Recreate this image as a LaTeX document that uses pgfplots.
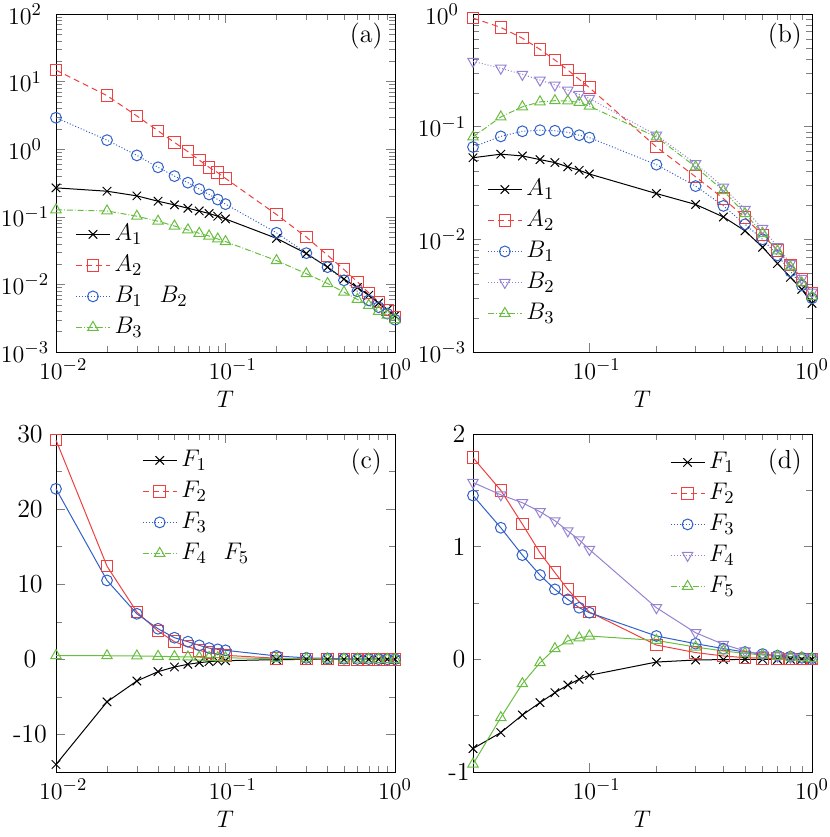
\documentclass[border=0pt]{standalone}
\usepackage{pgfplots}
\pgfplotsset{compat=1.18}
\definecolor{myred}{RGB}{238,64,64}
\definecolor{myblue}{RGB}{48,96,200}
\definecolor{mygreen}{RGB}{104,190,64}
\definecolor{mypurple}{RGB}{150,130,210}
\newcommand{\xl}[1]{\rlap{$10^{#1}$}\phantom{$10^{0}$}}
\pgfplotsset{
  mypanel/.style={scale only axis, width=169.5pt, height=169pt, anchor=south west,
    clip=false, font=\fontsize{13}{15}\selectfont,
    xlabel={$T$}, legend cell align=left,
    xlabel style={yshift=1pt},
    legend style={draw=none, fill=none, inner sep=0pt,
      nodes={inner sep=2pt, text height=9pt, text depth=2.5pt}}},
  sA1/.style={color=black, solid, line width=0.5pt, mark=x, mark size=3pt, mark options={solid}},
  sA2/.style={color=myred, densely dashed, line width=0.5pt, mark=square, mark size=2.9pt, mark options={solid}},
  sB1/.style={color=myblue, densely dotted, line width=0.5pt, mark=o, mark size=2.7pt, mark options={solid}},
  sB2/.style={color=mypurple, densely dotted, line width=0.5pt, mark=triangle, mark size=3pt, mark options={solid, rotate=180}},
  sB3/.style={color=mygreen, densely dashdotted, line width=0.5pt, mark=triangle, mark size=3pt, mark options={solid}},
  pF1/.style={color=black, line width=0.5pt, mark=x, mark size=3pt, mark options={solid}},
  pF2/.style={color=myred, line width=0.5pt, mark=square, mark size=2.9pt, mark options={solid}, legend image post style={densely dashed}},
  pF3/.style={color=myblue, line width=0.5pt, mark=o, mark size=2.7pt, mark options={solid}, legend image post style={densely dotted}},
  pF4/.style={color=mypurple, line width=0.5pt, mark=triangle, mark size=3pt, mark options={solid, rotate=180}, legend image post style={densely dotted}},
  pF5/.style={color=mygreen, line width=0.5pt, mark=triangle, mark size=3pt, mark options={solid}, legend image post style={densely dashdotted}},
}
\begin{document}
\begin{tikzpicture}
% ---------------- (a)
\begin{axis}[mypanel, xmode=log, ymode=log, at={(0pt,210pt)}, xmin=0.01, xmax=1, ymin=1e-3, ymax=1e2,
  xtick={0.01,0.1,1}, xticklabels={\xl{-2},\xl{-1},$10^{0}$},
  ytick={1e-3,1e-2,1e-1,1,1e1,1e2},
  yticklabel style={anchor=center, xshift=-15.5pt},
  legend style={at={(rel axis cs:0.056,0.395)}, anchor=north west}]
\addplot[sA1] coordinates {(0.01,0.268)(0.02,0.239)(0.03,0.204)(0.04,0.170)(0.05,0.150)(0.06,0.134)(0.07,0.122)(0.08,0.112)(0.09,0.102)(0.1,0.093)(0.2,0.048)(0.3,0.0286)(0.4,0.018)(0.5,0.012)(0.6,0.0090)(0.7,0.0069)(0.8,0.0053)(0.9,0.0042)(1.0,0.00345)};
\addlegendentry{$A_1$}
\addplot[sA2] coordinates {(0.01,14.8)(0.02,6.2)(0.03,3.1)(0.04,1.87)(0.05,1.26)(0.06,0.92)(0.07,0.69)(0.08,0.54)(0.09,0.45)(0.1,0.37)(0.2,0.108)(0.3,0.050)(0.4,0.027)(0.5,0.0166)(0.6,0.0109)(0.7,0.0075)(0.8,0.0055)(0.9,0.0042)(1.0,0.0033)};
\addlegendentry{$A_2$}
\addplot[sB1] coordinates {(0.01,2.92)(0.02,1.36)(0.03,0.81)(0.04,0.54)(0.05,0.40)(0.06,0.32)(0.07,0.257)(0.08,0.214)(0.09,0.180)(0.1,0.154)(0.2,0.058)(0.3,0.029)(0.4,0.018)(0.5,0.0115)(0.6,0.0079)(0.7,0.0058)(0.8,0.0046)(0.9,0.0037)(1.0,0.0030)};
\addlegendentry{$B_1\ \ B_2$}
\addplot[sB3] coordinates {(0.01,0.127)(0.02,0.122)(0.03,0.102)(0.04,0.086)(0.05,0.073)(0.06,0.064)(0.07,0.057)(0.08,0.052)(0.09,0.047)(0.1,0.043)(0.2,0.0225)(0.3,0.0144)(0.4,0.0103)(0.5,0.0077)(0.6,0.0060)(0.7,0.0049)(0.8,0.0040)(0.9,0.0035)(1.0,0.0030)};
\addlegendentry{$B_3$}
\node at (rel axis cs:0.915,0.935) {(a)};
\end{axis}
% ---------------- (b)
\begin{axis}[mypanel, xmode=log, ymode=log, at={(208.5pt,210pt)}, xmin=0.03, xmax=1, ymin=1e-3, ymax=1,
  xtick={0.1,1}, xticklabels={\xl{-1},$10^{0}$},
  ytick={1e-3,1e-2,1e-1,1},
  yticklabel style={anchor=center, xshift=-15.5pt},
  legend style={at={(rel axis cs:0.041,0.528)}, anchor=north west}]
\addplot[sA1] coordinates {(0.03,0.053)(0.04,0.057)(0.05,0.055)(0.06,0.051)(0.07,0.048)(0.08,0.044)(0.09,0.041)(0.1,0.038)(0.2,0.0255)(0.3,0.0204)(0.4,0.0158)(0.5,0.0119)(0.6,0.0085)(0.7,0.0061)(0.8,0.0046)(0.9,0.0036)(1.0,0.0027)};
\addlegendentry{$A_1$}
\addplot[sA2] coordinates {(0.03,0.92)(0.04,0.76)(0.05,0.61)(0.06,0.485)(0.07,0.39)(0.08,0.318)(0.09,0.263)(0.1,0.222)(0.2,0.066)(0.3,0.0359)(0.4,0.023)(0.5,0.0156)(0.6,0.0109)(0.7,0.0080)(0.8,0.0059)(0.9,0.0044)(1.0,0.0033)};
\addlegendentry{$A_2$}
\addplot[sB1] coordinates {(0.03,0.066)(0.04,0.082)(0.05,0.091)(0.06,0.093)(0.07,0.092)(0.08,0.089)(0.09,0.084)(0.1,0.080)(0.2,0.046)(0.3,0.0297)(0.4,0.0198)(0.5,0.0136)(0.6,0.0100)(0.7,0.0072)(0.8,0.0052)(0.9,0.0039)(1.0,0.0030)};
\addlegendentry{$B_1$}
\addplot[sB2] coordinates {(0.03,0.38)(0.04,0.33)(0.05,0.291)(0.06,0.259)(0.07,0.234)(0.08,0.211)(0.09,0.193)(0.1,0.178)(0.2,0.084)(0.3,0.047)(0.4,0.029)(0.5,0.0184)(0.6,0.0125)(0.7,0.0086)(0.8,0.0061)(0.9,0.0045)(1.0,0.0034)};
\addlegendentry{$B_2$}
\addplot[sB3] coordinates {(0.03,0.081)(0.04,0.122)(0.05,0.150)(0.06,0.166)(0.07,0.170)(0.08,0.169)(0.09,0.164)(0.1,0.152)(0.2,0.081)(0.3,0.044)(0.4,0.027)(0.5,0.0169)(0.6,0.0113)(0.7,0.0079)(0.8,0.0057)(0.9,0.0041)(1.0,0.0031)};
\addlegendentry{$B_3$}
\node at (rel axis cs:0.92,0.935) {(b)};
\end{axis}
% ---------------- (c)
\begin{axis}[mypanel, xmode=log, at={(0pt,0pt)}, xmin=0.01, xmax=1, ymin=-15, ymax=30,
  xtick={0.01,0.1,1}, xticklabels={\xl{-2},\xl{-1},$10^{0}$},
  ytick={-10,0,10,20,30}, yticklabels={-10,0,10,20,30}, minor y tick num=1,
  yticklabel style={anchor=center, xshift=-13pt},
  legend style={at={(rel axis cs:0.253,0.969)}, anchor=north west}]
\addplot[pF1] coordinates {(0.01,-14.0)(0.02,-5.66)(0.03,-2.88)(0.04,-1.64)(0.05,-1.02)(0.06,-0.66)(0.07,-0.44)(0.08,-0.31)(0.09,-0.22)(0.1,-0.18)(0.2,-0.04)(0.3,-0.01)(0.4,-0.005)(0.5,-0.003)(0.6,-0.002)(0.7,-0.001)(0.8,-0.001)(0.9,0)(1.0,0)};
\addlegendentry{$F_1$}
\addplot[pF2] coordinates {(0.01,29.2)(0.02,12.4)(0.03,6.3)(0.04,3.76)(0.05,2.35)(0.06,1.68)(0.07,1.2)(0.08,0.88)(0.09,0.66)(0.1,0.53)(0.2,0.15)(0.3,0.06)(0.4,0.03)(0.5,0.015)(0.6,0.01)(0.7,0.007)(0.8,0.005)(0.9,0.004)(1.0,0.003)};
\addlegendentry{$F_2$}
\addplot[pF3] coordinates {(0.01,22.7)(0.02,10.5)(0.03,6.06)(0.04,4.07)(0.05,2.88)(0.06,2.35)(0.07,1.86)(0.08,1.5)(0.09,1.33)(0.1,1.2)(0.2,0.45)(0.3,0.2)(0.4,0.12)(0.5,0.08)(0.6,0.05)(0.7,0.04)(0.8,0.03)(0.9,0.02)(1.0,0.015)};
\addlegendentry{$F_3$}
\addplot[pF5] coordinates {(0.01,0.5)(0.02,0.48)(0.03,0.45)(0.04,0.4)(0.05,0.36)(0.06,0.32)(0.07,0.28)(0.08,0.25)(0.09,0.22)(0.1,0.2)(0.2,0.1)(0.3,0.06)(0.4,0.04)(0.5,0.03)(0.6,0.02)(0.7,0.015)(0.8,0.01)(0.9,0.008)(1.0,0.006)};
\addlegendentry{$F_4\ \ F_5$}
\node at (rel axis cs:0.915,0.917) {(c)};
\end{axis}
% ---------------- (d)
\begin{axis}[mypanel, xmode=log, at={(208.5pt,0pt)}, xmin=0.03, xmax=1, ymin=-1, ymax=2,
  xtick={0.1,1}, xticklabels={\xl{-1},$10^{0}$},
  ytick={-1,0,1,2}, yticklabels={-1,0,1,2}, minor y tick num=1,
  yticklabel style={anchor=center, xshift=-7pt},
  legend style={at={(rel axis cs:0.58,0.963)}, anchor=north west}]
\addplot[pF1] coordinates {(0.03,-0.792)(0.04,-0.65)(0.05,-0.494)(0.06,-0.384)(0.07,-0.296)(0.08,-0.228)(0.09,-0.177)(0.1,-0.142)(0.2,-0.024)(0.3,-0.006)(0.4,-0.002)(0.5,-0.001)(0.6,0)(0.7,0)(0.8,0)(0.9,0)(1.0,0)};
\addlegendentry{$F_1$}
\addplot[pF2] coordinates {(0.03,1.79)(0.04,1.50)(0.05,1.20)(0.06,0.946)(0.07,0.77)(0.08,0.62)(0.09,0.51)(0.1,0.42)(0.2,0.127)(0.3,0.06)(0.4,0.03)(0.5,0.015)(0.6,0.01)(0.7,0.006)(0.8,0.004)(0.9,0.003)(1.0,0.002)};
\addlegendentry{$F_2$}
\addplot[pF3] coordinates {(0.03,1.454)(0.04,1.168)(0.05,0.925)(0.06,0.748)(0.07,0.621)(0.08,0.532)(0.09,0.458)(0.1,0.414)(0.2,0.207)(0.3,0.139)(0.4,0.095)(0.5,0.065)(0.6,0.047)(0.7,0.033)(0.8,0.024)(0.9,0.015)(1.0,0.009)};
\addlegendentry{$F_3$}
\addplot[pF4] coordinates {(0.03,1.57)(0.04,1.46)(0.05,1.39)(0.06,1.31)(0.07,1.23)(0.08,1.14)(0.09,1.06)(0.1,0.975)(0.2,0.458)(0.3,0.236)(0.4,0.133)(0.5,0.074)(0.6,0.044)(0.7,0.030)(0.8,0.02)(0.9,0.015)(1.0,0.01)};
\addlegendentry{$F_4$}
\addplot[pF5] coordinates {(0.03,-0.93)(0.04,-0.517)(0.05,-0.216)(0.06,-0.03)(0.07,0.095)(0.08,0.163)(0.09,0.19)(0.1,0.207)(0.2,0.168)(0.3,0.109)(0.4,0.074)(0.5,0.053)(0.6,0.038)(0.7,0.027)(0.8,0.02)(0.9,0.015)(1.0,0.009)};
\addlegendentry{$F_5$}
\node at (rel axis cs:0.92,0.917) {(d)};
\end{axis}
\pgfresetboundingbox
\useasboundingbox (-28pt,-32.5pt) rectangle (387pt,386pt);
\end{tikzpicture}
\end{document}
